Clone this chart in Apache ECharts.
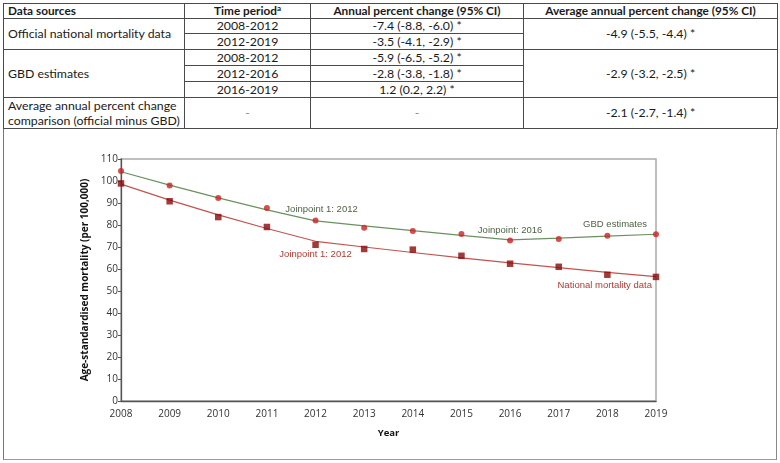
<!DOCTYPE html>
<html>
<head>
<meta charset="utf-8">
<script src="https://cdn.jsdelivr.net/npm/echarts/dist/echarts.min.js"></script>
<style>
  html, body { margin:0; padding:0; background:#fff; width:780px; height:463px; overflow:hidden; }
  #chart { position:absolute; left:0; top:0; width:780px; height:463px; }
  #box { position:absolute; left:3px; top:126px; width:772px; height:331px; border-left:1px solid #777; border-right:1px solid #888; border-bottom:1px solid #999; border-top:2px solid #cfcfcf; pointer-events:none; }
  #tbl { position:absolute; left:3px; top:3px; width:774px; border-collapse:collapse; table-layout:fixed; font-family:Lato, "Open Sans", sans-serif; font-size:12.3px; color:#1a1a1a; background:#fff; z-index:2; }
  #tbl td { border:1px solid #4a4a4a; padding:0 4px; line-height:14px; white-space:nowrap; overflow:hidden; }
  #tbl td.c { text-align:center; }
  #tbl tr.h td { font-weight:bold; font-size:11.8px; }
  #tbl sup { font-size:8px; line-height:0; vertical-align:4px; }
</style>
</head>
<body>
<div id="chart"></div>
<div id="box"></div>
<table id="tbl"></table>
<script>
// ---- table content ----
const tableHeaders = ['Data sources', 'Time period', 'Annual percent change (95% CI)', 'Average annual percent change (95% CI)'];
const officialLabel = 'Official national mortality data';
const officialPeriods = ['2008-2012', '2012-2019'];
const officialAPC = ['-7.4 (-8.8, -6.0) *', '-3.5 (-4.1, -2.9) *'];
const officialAAPC = '-4.9 (-5.5, -4.4) *';
const gbdLabel = 'GBD estimates';
const gbdPeriods = ['2008-2012', '2012-2016', '2016-2019'];
const gbdAPC = ['-5.9 (-6.5, -5.2) *', '-2.8 (-3.8, -1.8) *', '1.2 (0.2, 2.2) *'];
const gbdAAPC = '-2.9 (-3.2, -2.5) *';
const comparisonLabel = ['Average annual percent change', 'comparison (official minus GBD)'];
const comparisonPeriod = '-';
const comparisonAPC = '-';
const comparisonAAPC = '-2.1 (-2.7, -1.4) *';

// ---- chart data ----
const years = [2008, 2009, 2010, 2011, 2012, 2013, 2014, 2015, 2016, 2017, 2018, 2019];
const gbdObserved = [104.5, 97.9, 92.3, 87.7, 82.1, 78.8, 77.3, 75.9, 73.0, 73.6, 75.1, 75.8];
const gbdFitted = [104.2, 98.1, 92.3, 86.9, 81.9, 79.6, 77.4, 75.3, 73.2, 74.0, 74.9, 75.8];
const nationalObserved = [98.9, 90.8, 83.6, 79.1, 71.0, 69.1, 68.8, 66.0, 62.4, 61.0, 57.4, 56.4];
const nationalFitted = [98.6, 91.3, 84.6, 78.4, 72.6, 70.0, 67.5, 65.1, 62.8, 60.6, 58.5, 56.5];
const yTicks = { min: 0, max: 110, step: 10 };
const xTitle = 'Year';
const yTitle = 'Age-standardised mortality (per 100,000)';
const gbdNotes = [
  { text: 'Joinpoint 1: 2012', year: 2012 },
  { text: 'Joinpoint: 2016', year: 2016 },
  { text: 'GBD estimates', year: 2019 }
];
const nationalNotes = [
  { text: 'Joinpoint 1: 2012', year: 2012 },
  { text: 'National mortality data', year: 2019 }
];

// ---- build table ----
(function () {
  const rowH = [15, 15, 16, 16, 16, 16, 30];
  let html = '<colgroup><col style="width:181px"><col style="width:126px"><col style="width:213px"><col style="width:254px"></colgroup>';
  html += '<tr class="h" style="height:' + rowH[0] + 'px"><td>' + tableHeaders[0] + '</td><td class="c">' + tableHeaders[1] + '<sup>a</sup></td><td class="c">' + tableHeaders[2] + '</td><td class="c">' + tableHeaders[3] + '</td></tr>';
  officialPeriods.forEach(function (p, i) {
    html += '<tr style="height:' + rowH[1 + i] + 'px">';
    if (i === 0) html += '<td rowspan="' + officialPeriods.length + '">' + officialLabel + '</td>';
    html += '<td class="c">' + p + '</td><td class="c">' + officialAPC[i] + '</td>';
    if (i === 0) html += '<td class="c" rowspan="' + officialPeriods.length + '">' + officialAAPC + '</td>';
    html += '</tr>';
  });
  gbdPeriods.forEach(function (p, i) {
    html += '<tr style="height:' + rowH[3 + i] + 'px">';
    if (i === 0) html += '<td rowspan="' + gbdPeriods.length + '">' + gbdLabel + '</td>';
    html += '<td class="c">' + p + '</td><td class="c">' + gbdAPC[i] + '</td>';
    if (i === 0) html += '<td class="c" rowspan="' + gbdPeriods.length + '">' + gbdAAPC + '</td>';
    html += '</tr>';
  });
  html += '<tr style="height:' + rowH[6] + 'px"><td style="line-height:15px">' + comparisonLabel.join('<br>') + '</td><td class="c" style="color:#888">' + comparisonPeriod + '</td><td class="c" style="color:#888">' + comparisonAPC + '</td><td class="c">' + comparisonAAPC + '</td></tr>';
  document.getElementById('tbl').innerHTML = html;
})();

// ---- chart ----
const pairs = (ys) => years.map((y, i) => [y, ys[i]]);
const valAt = (arr, yr) => arr[years.indexOf(yr)];

const gbdNoteStyle = [
  { offset: [6, -11], align: 'center' },
  { offset: [0, -10], align: 'center' },
  { offset: [-9, -10], align: 'right' }
];
const natNoteStyle = [
  { offset: [0, 13], align: 'center' },
  { offset: [-4, 9], align: 'right' }
];

function notes(list, arr, styles, color) {
  return {
    symbol: 'circle',
    symbolSize: 1,
    silent: true,
    itemStyle: { color: 'rgba(0,0,0,0)' },
    data: list.map((n, i) => ({
      coord: [n.year, valAt(arr, n.year)],
      label: {
        show: true,
        position: 'inside',
        formatter: n.text,
        offset: styles[i].offset,
        align: styles[i].align,
        color: color,
        fontSize: 9.5,
        fontFamily: 'Liberation Sans, Arial, sans-serif'
      }
    }))
  };
}

const chart = echarts.init(document.getElementById('chart'), null, { renderer: 'canvas' });
chart.setOption({
  animation: false,
  backgroundColor: 'transparent',
  grid: { left: 121, right: 124, top: 159, bottom: 62, show: true, borderColor: '#aaaaaa', borderWidth: 1.5, backgroundColor: 'transparent' },
  xAxis: {
    type: 'value',
    min: years[0],
    max: years[years.length - 1],
    interval: 1,
    name: xTitle,
    nameLocation: 'middle',
    nameGap: 27,
    nameTextStyle: { fontFamily: 'Open Sans, sans-serif', fontWeight: 'bold', fontSize: 9.5, color: '#111' },
    axisLine: { show: true, lineStyle: { color: '#555', width: 1.3 } },
    axisTick: { show: false },
    splitLine: { show: false },
    axisLabel: { formatter: (v) => String(v), fontFamily: 'Open Sans, sans-serif', fontSize: 10, color: '#333', margin: 8 }
  },
  yAxis: {
    type: 'value',
    min: yTicks.min,
    max: yTicks.max,
    interval: yTicks.step,
    name: yTitle,
    nameLocation: 'middle',
    nameGap: 27,
    nameTextStyle: { fontFamily: 'Open Sans, sans-serif', fontWeight: 'bold', fontSize: 10, color: '#111' },
    axisLine: { show: true, lineStyle: { color: '#555', width: 1.3 } },
    axisTick: { show: true, length: 3, lineStyle: { color: '#555' } },
    splitLine: { show: false },
    axisLabel: { fontFamily: 'Open Sans, sans-serif', fontSize: 10, color: '#333', margin: 3 }
  },
  series: [
    {
      name: 'GBD fitted', type: 'line', data: pairs(gbdFitted), showSymbol: false, symbol: 'none',
      lineStyle: { color: '#6b9160', width: 1.2 }, z: 2, silent: true,
      markPoint: notes(gbdNotes, gbdFitted, gbdNoteStyle, '#4f6345')
    },
    {
      name: 'National fitted', type: 'line', data: pairs(nationalFitted), showSymbol: false, symbol: 'none',
      lineStyle: { color: '#c4534f', width: 1.2 }, z: 2, silent: true,
      markPoint: notes(nationalNotes, nationalFitted, natNoteStyle, '#b23a33')
    },
    {
      name: 'GBD estimates', type: 'scatter', data: pairs(gbdObserved), symbol: 'circle', symbolSize: 6,
      itemStyle: { color: '#cc2222' }, z: 3, silent: true
    },
    {
      name: 'National mortality data', type: 'scatter', data: pairs(nationalObserved), symbol: 'rect', symbolSize: 6.5,
      itemStyle: { color: '#8a0a0a' }, z: 3, silent: true
    }
  ]
});
</script>
</body>
</html>
